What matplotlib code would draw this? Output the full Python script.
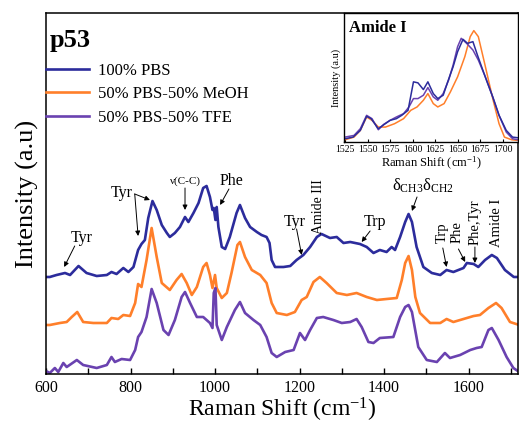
import matplotlib
matplotlib.use('Agg')
import matplotlib.pyplot as plt
from matplotlib.ticker import MultipleLocator

plt.rcParams['font.family'] = 'Liberation Serif'
plt.rcParams['mathtext.fontset'] = 'custom'
plt.rcParams['mathtext.rm'] = 'Liberation Serif'
plt.rcParams['mathtext.default'] = 'regular'

# main spectra (offset stacked)
pbs_x = [600, 609, 625, 645, 657, 677, 696, 720, 744, 755, 767, 783, 795, 807, 818, 826, 834, 842,
         852, 862, 874, 886, 893, 905, 917, 929, 937, 949, 961, 972, 980, 988, 994, 997, 1001, 1004,
         1008, 1016, 1024, 1035, 1051, 1059, 1071, 1083, 1099, 1110, 1122, 1129, 1134, 1142, 1162,
         1178, 1193, 1209, 1225, 1241, 1252, 1272, 1288, 1304, 1320, 1343, 1359, 1375, 1390, 1406,
         1418, 1426, 1438, 1450, 1458, 1466, 1477, 1493, 1513, 1533, 1548, 1564, 1588, 1596, 1612,
         1623, 1639, 1655, 1667, 1686, 1707, 1720]
pbs_y = [97, 97, 99, 101, 99, 108, 101, 98, 99, 102, 100, 106, 102, 107, 124, 130, 134, 156,
         173, 164, 149, 141, 137, 141, 147, 157, 152, 161, 171, 186, 188, 177, 164, 166, 154, 167,
         147, 127, 125, 137, 161, 169, 156, 147, 142, 139, 137, 131, 114, 107, 107,
         108, 114, 119, 127, 137, 140, 136, 137, 131, 132, 130, 127, 121, 124, 122,
         127, 124, 137, 152, 160, 152, 127, 107, 101, 99, 104, 102, 106, 111, 110,
         107, 114, 119, 116, 104, 97, 97]

meoh_x = [600, 609, 633, 649, 661, 674, 688, 712, 744, 755, 771, 783, 799, 811, 818, 826, 838, 850,
          862, 874, 893, 909, 921, 933, 945, 957, 972, 980, 988, 994, 1000, 1004, 1016, 1028, 1039,
          1053, 1059, 1071, 1087, 1107, 1122, 1134, 1146, 1170, 1189, 1205, 1217, 1233, 1248, 1264,
          1288, 1312, 1335, 1359, 1383, 1406, 1430, 1442, 1450, 1458, 1466, 1474, 1485, 1509, 1533,
          1548, 1564, 1588, 1612, 1627, 1647, 1665, 1678, 1698, 1720]
meoh_y = [49, 49, 51, 52, 57, 62, 52, 51, 51, 56, 55, 59, 58, 71, 90, 87, 114, 146,
          117, 91, 84, 94, 100, 91, 79, 87, 107, 111, 99, 86, 99, 86, 76, 81, 101,
          129, 132, 117, 104, 99, 91, 71, 61, 59, 62, 74, 77, 92, 97, 91,
          81, 79, 81, 77, 74, 75, 76, 94, 111, 118, 104, 77, 61, 51, 51,
          55, 52, 55, 58, 59, 66, 71, 66, 52, 49]

tfe_x = [600, 609, 621, 629, 641, 649, 673, 688, 720, 744, 755, 763, 779, 799, 811, 818, 826, 838,
         850, 862, 878, 890, 905, 921, 929, 941, 957, 972, 988, 994, 997, 1001, 1004, 1016, 1028,
         1047, 1059, 1071, 1091, 1107, 1122, 1134, 1146, 1166, 1186, 1201, 1213, 1225, 1241, 1256,
         1280, 1300, 1320, 1335, 1347, 1363, 1375, 1390, 1422, 1438, 1450, 1458, 1466, 1481, 1501,
         1525, 1544, 1556, 1580, 1604, 1619, 1631, 1647, 1655, 1671, 1690, 1706, 1720]
tfe_y = [3, 1, 6, 2, 11, 7, 14, 9, 6, 9, 17, 12, 15, 14, 24, 37, 42, 57,
         85, 71, 44, 39, 54, 77, 82, 71, 57, 57, 51, 46, 81, 86, 49, 34, 47,
         64, 72, 61, 54, 49, 37, 21, 17, 22, 24, 41, 34, 44, 56, 57,
         54, 51, 52, 55, 47, 32, 31, 36, 37, 57, 67, 69, 62, 27, 14,
         12, 21, 16, 19, 24, 26, 27, 44, 46, 34, 17, 6, 2]

# inset: amide I region
ins_pbs_x = [1525, 1534, 1542, 1549, 1554, 1562, 1567, 1575, 1582, 1588, 1595, 1601, 1606, 1612,
             1617, 1623, 1628, 1634, 1639, 1645, 1650, 1656, 1661, 1667, 1672, 1680, 1689, 1696,
             1704, 1711, 1717]
ins_pbs_y = [10, 15, 35, 77, 70, 40, 50, 65, 70, 80, 95, 180, 177, 157,
             180, 145, 130, 140, 180, 225, 270, 307, 295, 300, 260, 200, 135, 80,
             35, 15, 13]
ins_meoh_x = [1525, 1535, 1542, 1549, 1555, 1562, 1570, 1580, 1590, 1598, 1605, 1612, 1617, 1623,
              1628, 1635, 1642, 1650, 1658, 1664, 1668, 1673, 1680, 1689, 1696, 1702, 1710, 1717]
ins_meoh_y = [7, 15, 35, 75, 65, 45, 45, 55, 70, 95, 105, 125, 145, 115,
              105, 115, 150, 195, 255, 315, 333, 315, 235, 130, 55, 15, 7, 5]
ins_tfe_x = [1525, 1535, 1542, 1549, 1555, 1562, 1568, 1575, 1582, 1590, 1596, 1601, 1606, 1612,
             1617, 1623, 1628, 1634, 1640, 1645, 1650, 1654, 1660, 1667, 1673, 1680, 1689, 1696,
             1704, 1711, 1717]
ins_tfe_y = [15, 20, 40, 80, 70, 37, 53, 65, 75, 85, 105, 130, 130, 140,
             163, 135, 125, 145, 185, 230, 285, 310, 295, 275, 245, 200, 135, 80,
             30, 10, 7]

labels = ['100% PBS', '50% PBS-50% MeOH', '50% PBS-50% TFE']
colors = ['#2c2c9c', '#ff7f2a', '#6a42b0']

fig = plt.figure(figsize=(5.19, 4.4), dpi=100)
ax = fig.add_axes([0.0886, 0.15, 0.9095, 0.8205])

ax.plot(pbs_x, pbs_y, color=colors[0], lw=1.9, label=labels[0])
ax.plot(meoh_x, meoh_y, color=colors[1], lw=1.9, label=labels[1])
ax.plot(tfe_x, tfe_y, color=colors[2], lw=1.9, label=labels[2])

ax.set_xlim(600, 1717)
ax.set_ylim(0, 361)
ax.set_yticks([])
ax.xaxis.set_major_locator(MultipleLocator(200))
ax.xaxis.set_minor_locator(MultipleLocator(100))
ax.tick_params(axis='x', which='both', direction='in', length=4, width=1, labelsize=11.5, pad=4)
for s in ax.spines.values():
    s.set_linewidth(1.1)
ax.set_xlabel('Raman Shift (cm$^{-1}$)', fontsize=17, labelpad=0)
ax.set_ylabel('Intensity (a.u)', fontsize=19, labelpad=5)

ax.text(0.008, 0.906, 'p53', transform=ax.transAxes, fontsize=19, fontweight='bold')
ax.legend(loc='upper left', bbox_to_anchor=(0, 0.862), frameon=False, fontsize=12,
          borderaxespad=0, borderpad=0, handlelength=2.6, handletextpad=0.5, labelspacing=0.45)

# peak assignments
arr = dict(arrowstyle='-|>', color='black', lw=0.7, mutation_scale=7, shrinkA=0, shrinkB=0)
ax.text(684, 136, 'Tyr', fontsize=11.5, ha='center', va='center')
ax.annotate('', xy=(643, 107), xytext=(668, 128), arrowprops=arr)
ax.text(779, 181, 'Tyr', fontsize=11.5, ha='center', va='center')
ax.annotate('', xy=(818, 138), xytext=(810, 180), arrowprops=arr)
ax.annotate('', xy=(846, 174), xytext=(810, 180), arrowprops=arr)
ax.text(929, 193, 'ν(C-C)', fontsize=8, ha='center', va='center')
ax.annotate('', xy=(929, 164), xytext=(929, 186), arrowprops=arr)
ax.text(1040, 193, 'Phe', fontsize=11.5, ha='center', va='center')
ax.annotate('', xy=(1012, 169), xytext=(1033, 185), arrowprops=arr)
ax.text(1189, 152, 'Tyr', fontsize=11.5, ha='center', va='center')
ax.annotate('', xy=(1205, 119), xytext=(1193, 145), arrowprops=arr)
ax.text(1244, 167, 'Amide III', fontsize=10, rotation=90, ha='center', va='center')
ax.text(1379, 152, 'Trp', fontsize=11.5, ha='center', va='center')
ax.annotate('', xy=(1347, 132), xytext=(1367, 143), arrowprops=arr)
ax.text(1492, 188, 'δ$_{CH3}$δ$_{CH2}$', fontsize=12, ha='center', va='center')
ax.annotate('', xy=(1466, 163), xytext=(1478, 177), arrowprops=arr)
ax.text(1537, 141, 'Trp', fontsize=10.5, rotation=90, ha='center', va='center')
ax.annotate('', xy=(1548, 107), xytext=(1539, 126), arrowprops=arr)
ax.text(1572, 142, 'Phe', fontsize=10.5, rotation=90, ha='center', va='center')
ax.annotate('', xy=(1592, 112), xytext=(1576, 125), arrowprops=arr)
ax.text(1615, 152, 'Phe,Tyr', fontsize=10.5, rotation=90, ha='center', va='center')
ax.annotate('', xy=(1615, 111), xytext=(1615, 127), arrowprops=arr)
ax.text(1667, 151, 'Amide I', fontsize=10.5, rotation=90, ha='center', va='center')

# inset
ins = fig.add_axes([0.663, 0.677, 0.335, 0.293])
ins.plot(ins_meoh_x, ins_meoh_y, color=colors[1], lw=1.1)
ins.plot(ins_tfe_x, ins_tfe_y, color=colors[2], lw=1.1)
ins.plot(ins_pbs_x, ins_pbs_y, color=colors[0], lw=1.1)
ins.set_xlim(1524, 1717)
ins.set_ylim(0, 385)
ins.set_yticks([])
ins.xaxis.set_major_locator(MultipleLocator(25))
ins.tick_params(axis='x', direction='in', length=2.5, width=0.8, labelsize=7, pad=2)
for s in ins.spines.values():
    s.set_linewidth(1.0)
ins.set_xlabel('Raman Shift (cm$^{-1}$)', fontsize=9, labelpad=1)
ins.set_ylabel('Intensity (a.u)', fontsize=7.5, labelpad=2)
ins.text(0.03, 0.95, 'Amide I', transform=ins.transAxes, fontsize=12, fontweight='bold',
         ha='left', va='top')

fig.savefig('out.png', dpi=100)
